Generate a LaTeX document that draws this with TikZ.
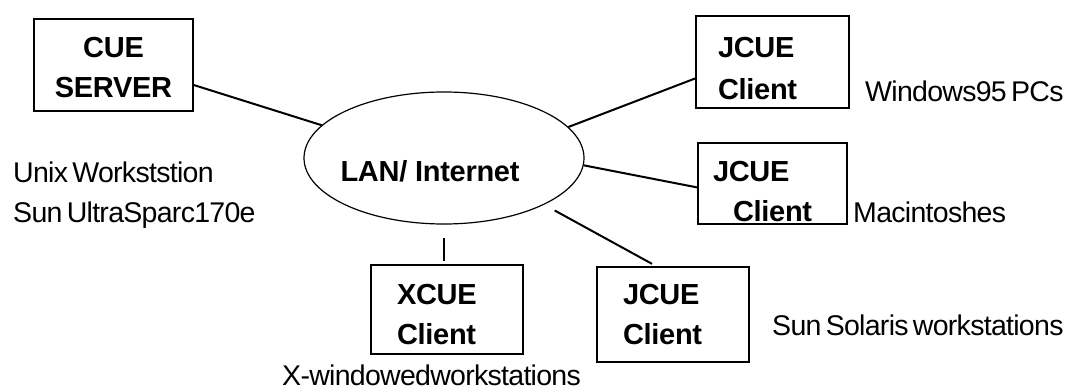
\documentclass[tikz,border=0pt]{standalone}
\usepackage{fontspec}
\setmainfont{Liberation Sans}
\newfontfamily\boxfont{Liberation Sans}[LetterSpace=-1]
\newfontfamily\descfont{Liberation Sans}[LetterSpace=-2.5,WordSpace=0.6]
\usepackage{tikz}
\usetikzlibrary{shapes.geometric}
\newcommand{\lift}[1]{\rule{0pt}{#1}}

\begin{document}
\begin{tikzpicture}[x=1pt, y=-1pt,
  box/.style={draw, line width=1.5pt, inner sep=0pt, font=\boxfont\bfseries\fontsize{29}{40}\selectfont},
  hub/.style={draw, ellipse, line width=1.2pt, inner sep=0pt, minimum width=280pt, minimum height=132pt,
    text height=48pt, text depth=0pt, font=\boxfont\bfseries\fontsize{29}{40}\selectfont},
  desc/.style={inner sep=0pt, font=\descfont\fontsize{28.5}{40}\selectfont},
  link/.style={line width=2pt}]
\useasboundingbox (0,0) rectangle (1072,390);
\node[hub] (lan) at (444,158) {\hspace*{-28pt}LAN/ Internet};
\node[box, minimum width=159pt, minimum height=92pt, align=center] (server) at (113.5,65) {\lift{25pt}CUE\\SERVER};
\node[box, minimum width=153pt, minimum height=92pt, text width=109pt, align=left] (jwin) at (772.5,62) {\lift{33pt}JCUE\\[2pt]Client};
\node[box, minimum width=149pt, minimum height=81pt, text width=119pt, align=left] (jmac) at (772.5,183.5) {\lift{37pt}JCUE\\\hspace*{20pt}Client};
\node[box, minimum width=152pt, minimum height=89pt, text width=100pt, align=left] (xcue) at (447,309.5) {\lift{30pt}XCUE\\Client};
\node[box, minimum width=152pt, minimum height=95pt, text width=100pt, align=left] (jsun) at (673,314.5) {JCUE\\Client};
\node[desc, align=left, anchor=north west] (unix) at (13,162) {Unix Workststion\\Sun UltraSparc170e};
\node[desc, anchor=base west] (win) at (865,102) {Windows95 PCs};
\node[desc, anchor=base west] (mac) at (853,223) {Macintoshes};
\node[desc, anchor=base west] (sol) at (772,335) {Sun Solaris workstations};
\node[desc, anchor=base west] (xwin) at (282,385) {X-windowedworkstations};
\foreach \a/\b in {server.-14/lan.165, lan.14/jwin.192, lan.-3/jmac.183} \draw[link] (\a) -- (\b);
\draw[link, shorten <=12pt, shorten >=5pt] (lan.-25.5) -- (jsun.109);
\draw[link, shorten <=13pt, shorten >=3pt] (lan.south) -- (lan.south |- xcue.north);
\end{tikzpicture}
\end{document}
